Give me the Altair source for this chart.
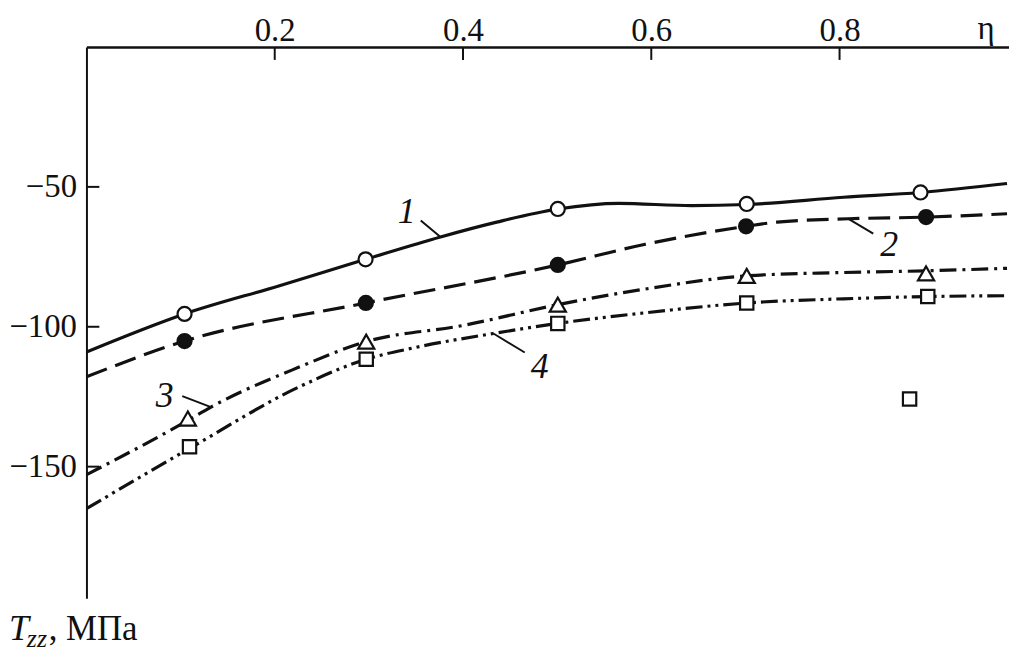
import altair as alt
import pandas as pd

# ---------------- data ----------------
# markers (eta, T_zz in MPa)
eta_1 = [0.1042, 0.2965, 0.5007, 0.7014, 0.8860]
T_1 = [-95.4, -75.9, -57.9, -56.1, -52.0]

eta_2 = [0.1042, 0.2968, 0.5007, 0.7007, 0.8919]
T_2 = [-105.1, -91.5, -77.9, -64.1, -60.8]

eta_3 = [0.1077, 0.2972, 0.5007, 0.7014, 0.8919]
T_3 = [-132.8, -105.3, -92.1, -81.8, -80.9]

eta_4 = [0.1095, 0.2972, 0.5007, 0.7014, 0.8937]
T_4 = [-142.9, -111.6, -98.8, -91.5, -89.2]

eta_extra = [0.8744]
T_extra = [-125.8]

# smooth curves
c1_eta = [0.0, 0.1042, 0.2042, 0.2965, 0.3761, 0.4358, 0.5007, 0.5656, 0.6430, 0.7014, 0.8042, 0.8860, 0.9779]
c1_T = [-109.0, -95.4, -85.4, -75.9, -67.9, -62.6, -57.9, -55.9, -56.7, -56.3, -53.7, -52.0, -48.8]

c2_eta = [0.0, 0.1042, 0.2968, 0.5007, 0.5937, 0.7007, 0.7337, 0.8095, 0.8919, 0.9779]
c2_T = [-117.9, -105.1, -91.5, -77.9, -70.5, -64.1, -62.6, -61.4, -60.8, -59.6]

c3_eta = [0.0, 0.1050, 0.1323, 0.2253, 0.2972, 0.4007, 0.5007, 0.5937, 0.7014, 0.8042, 0.8919, 0.9779]
c3_T = [-152.9, -134.0, -128.7, -114.5, -105.3, -99.5, -92.1, -86.5, -81.8, -80.6, -80.0, -79.1]

c4_eta = [0.0, 0.1095, 0.2253, 0.2972, 0.3481, 0.4323, 0.5007, 0.5937, 0.7014, 0.8042, 0.8937, 0.9779]
c4_T = [-165.0, -143.5, -121.6, -111.6, -107.5, -102.4, -98.8, -95.0, -91.5, -90.0, -89.2, -88.9]

# curve labels and leader lines
label_text = ["1", "2", "3", "4"]
label_eta = [0.3402, 0.8528, 0.0832, 0.4814]
label_T = [-59.0, -70.8, -124.6, -114.5]
leader_eta1 = [0.3551, 0.8095, 0.1018, 0.4323]
leader_T1 = [-62.0, -61.4, -124.8, -102.4]
leader_eta2 = [0.3761, 0.8358, 0.1323, 0.4656]
leader_T2 = [-67.9, -66.7, -128.7, -109.2]

x_ticks = [0.2, 0.4, 0.6, 0.8]
y_ticks = [-50, -100, -150]

# ---------------- styling ----------------
FONT = "Liberation Serif, Times New Roman, serif"
INK = "#111111"
X_DOM = [0, 0.98]
Y_DOM = [-197, 0]
W, H = 929, 555

xs = alt.Scale(domain=X_DOM, nice=False, zero=False)
ys = alt.Scale(domain=Y_DOM, nice=False, zero=False)

x_axis = alt.Axis(orient="top", values=x_ticks, format=".1f", ticks=False, grid=False,
                  domainWidth=2.5, domainColor=INK, labelFont=FONT, labelFontSize=33,
                  labelColor=INK, labelPadding=0, title=None, labelFlush=False)
y_axis = alt.Axis(orient="left", values=y_ticks, labelExpr="'\u2212' + abs(datum.value)",
                  ticks=False, grid=False, domainWidth=2, domainColor=INK, labelFont=FONT,
                  labelFontSize=33, labelColor=INK, labelPadding=10, title=None)


def X(field):
    return alt.X(field, type="quantitative", scale=xs, axis=x_axis)


def Y(field):
    return alt.Y(field, type="quantitative", scale=ys, axis=y_axis)


def curve(eta, T, dash=None):
    df = pd.DataFrame({"eta": eta, "T": T})
    kw = dict(color=INK, strokeWidth=3.2, interpolate="monotone", clip=True)
    if dash:
        kw["strokeDash"] = dash
    return alt.Chart(df).mark_line(**kw).encode(x=X("eta"), y=Y("T"))


def markers(eta, T, shape, size, fill):
    df = pd.DataFrame({"eta": eta, "T": T})
    return alt.Chart(df).mark_point(shape=shape, size=size, filled=True, fill=fill,
                                    stroke=INK, strokeWidth=2.2, opacity=1).encode(
        x=X("eta"), y=Y("T"))


layers = []
layers.append(curve(c1_eta, c1_T))
layers.append(curve(c2_eta, c2_T, [22, 9]))
layers.append(curve(c3_eta, c3_T, [17, 6, 3, 6]))
layers.append(curve(c4_eta, c4_T, [17, 5, 3, 5, 3, 5]))

# leader lines
lead_df = pd.DataFrame({"e1": leader_eta1, "t1": leader_T1, "e2": leader_eta2, "t2": leader_T2})
layers.append(alt.Chart(lead_df).mark_rule(color=INK, strokeWidth=2).encode(
    x=X("e1"), y=Y("t1"), x2="e2", y2="t2"))

# markers
layers.append(markers(eta_1, T_1, "circle", 200, "white"))
layers.append(markers(eta_2, T_2, "circle", 200, INK))
layers.append(markers(eta_3, T_3, "triangle-up", 265, "white"))
layers.append(markers(eta_4, T_4, "square", 180, "white"))
layers.append(markers(eta_extra, T_extra, "square", 180, "white"))

# curve numbers
lab_df = pd.DataFrame({"eta": label_eta, "T": label_T, "txt": label_text})
layers.append(alt.Chart(lab_df).mark_text(font=FONT, fontSize=36, fontStyle="italic",
                                          color=INK, align="center", baseline="middle").encode(
    x=X("eta"), y=Y("T"), text="txt:N"))

# inward ticks
xt_df = pd.DataFrame({"v": x_ticks})
layers.append(alt.Chart(xt_df).mark_rule(color=INK, strokeWidth=2).encode(
    x=X("v"), y=alt.value(0), y2=alt.value(13)))
yt_df = pd.DataFrame({"v": y_ticks})
layers.append(alt.Chart(yt_df).mark_rule(color=INK, strokeWidth=2).encode(
    y=Y("v"), x=alt.value(0), x2=alt.value(13)))

# axis titles
eta_df = pd.DataFrame({"t": ["\u03b7"]})
layers.append(alt.Chart(eta_df).mark_text(font=FONT, fontSize=33, color=INK, align="center",
                                          baseline="alphabetic").encode(
    x=alt.value(906), y=alt.value(-8), text="t:N"))
t_df = pd.DataFrame({"t": ["T"]})
layers.append(alt.Chart(t_df).mark_text(font=FONT, fontSize=36, fontStyle="italic", color=INK,
                                        align="left", baseline="alphabetic").encode(
    x=alt.value(-78), y=alt.value(597), text="t:N"))
zz_df = pd.DataFrame({"t": ["zz"]})
layers.append(alt.Chart(zz_df).mark_text(font=FONT, fontSize=26, fontStyle="italic", color=INK,
                                         align="left", baseline="alphabetic").encode(
    x=alt.value(-60), y=alt.value(604), text="t:N"))
u_df = pd.DataFrame({"t": [", \u041c\u041f\u0430"]})
layers.append(alt.Chart(u_df).mark_text(font=FONT, fontSize=35, color=INK,
                                        align="left", baseline="alphabetic").encode(
    x=alt.value(-38), y=alt.value(597), text="t:N"))

chart = alt.layer(*layers).properties(
    width=W, height=H,
    autosize=alt.AutoSizeParams(type="none"),
    padding={"left": 79, "top": 37, "right": 0, "bottom": 58},
    background="white",
).configure_view(stroke=None)

chart.save("out.html", embed_options={"renderer": "svg", "actions": False})
